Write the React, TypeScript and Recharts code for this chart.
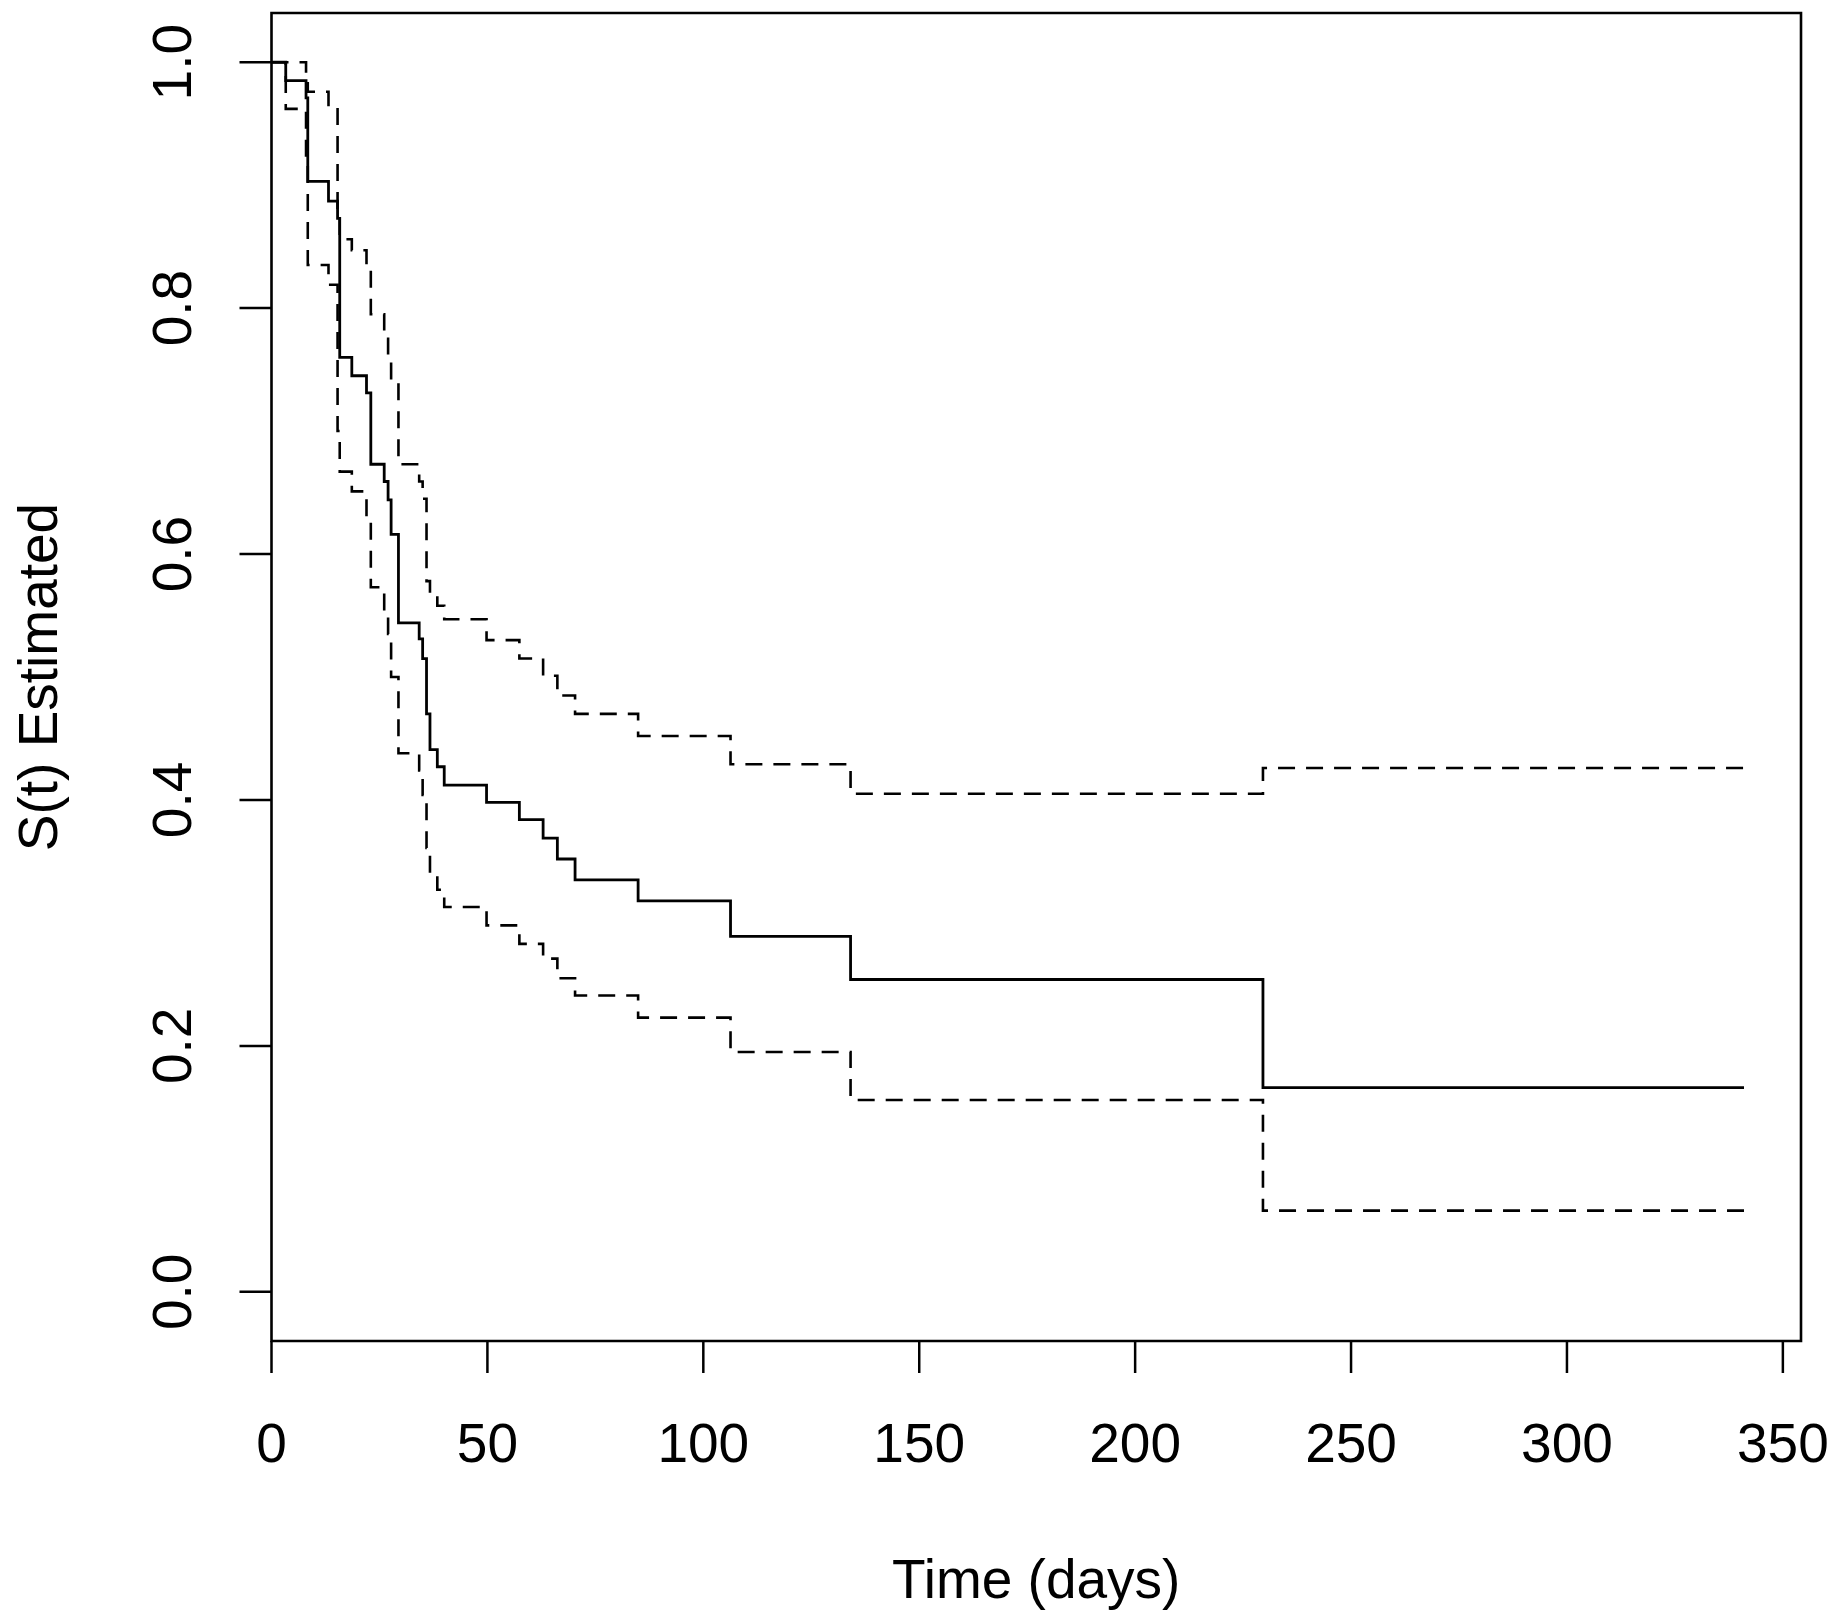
import React from 'react';
import { LineChart, Line, XAxis, YAxis, ReferenceArea } from 'recharts';

// Kaplan-Meier estimate with pointwise confidence band
const times = [0, 3.3, 8, 8.4, 13.2, 15.3, 15.8, 18.6, 22, 23, 26.1, 27, 27.7, 29.4, 34.2, 35, 35.9, 36.7, 38.4, 40, 49.8, 57.4, 62.9, 66.2, 70.3, 84.9, 106.3, 134.1, 229.6, 341];
const survival = [1, 0.985, 0.971, 0.903, 0.887, 0.873, 0.76, 0.745, 0.731, 0.673, 0.659, 0.644, 0.616, 0.544, 0.531, 0.515, 0.47, 0.441, 0.427, 0.412, 0.398, 0.384, 0.369, 0.352, 0.335, 0.318, 0.289, 0.254, 0.166, 0.166];
const upper = [1, 1, 0.99, 0.976, 0.964, 0.88, 0.856, 0.847, 0.835, 0.795, 0.775, 0.757, 0.74, 0.673, 0.659, 0.645, 0.578, 0.568, 0.558, 0.547, 0.53, 0.515, 0.501, 0.485, 0.47, 0.452, 0.429, 0.405, 0.426, 0.426];
const lower = [1, 0.962, 0.92, 0.835, 0.819, 0.7, 0.667, 0.651, 0.63, 0.573, 0.553, 0.535, 0.5, 0.438, 0.424, 0.404, 0.361, 0.34, 0.327, 0.313, 0.298, 0.283, 0.271, 0.255, 0.241, 0.223, 0.195, 0.156, 0.066, 0.066];

const xTicks = [0, 50, 100, 150, 200, 250, 300, 350];
const yTicks = [0, 0.2, 0.4, 0.6, 0.8, 1.0];

const X_MAX = 354.2;
const Y_MIN = -0.04;
const Y_MAX = 1.04;

const data = times.map((t, i) => ({ t, surv: survival[i], up: upper[i], lo: lower[i] }));

const FONT = '"Liberation Sans", Arial, sans-serif';
const FONT_SIZE = 55;

const XTick = (props: any) => {
  const { x, y, payload } = props;
  return (
    <text x={x} y={y + 89} textAnchor="middle" fontFamily={FONT} fontSize={FONT_SIZE} fill="#000">
      {payload.value}
    </text>
  );
};

const YTick = (props: any) => {
  const { x, y, payload } = props;
  const bx = x - 48.5;
  return (
    <text
      x={bx}
      y={y}
      transform={`rotate(-90, ${bx}, ${y})`}
      textAnchor="middle"
      fontFamily={FONT}
      fontSize={FONT_SIZE}
      fill="#000"
    >
      {Number(payload.value).toFixed(1)}
    </text>
  );
};

const XTitle = (props: any) => {
  const { viewBox } = props;
  return (
    <text
      x={viewBox.x + viewBox.width / 2}
      y={viewBox.y + 257}
      textAnchor="middle"
      fontFamily={FONT}
      fontSize={FONT_SIZE}
      fill="#000"
    >
      Time (days)
    </text>
  );
};

const YTitle = (props: any) => {
  const { viewBox } = props;
  const cy = viewBox.y + viewBox.height / 2;
  return (
    <text
      x={57}
      y={cy}
      transform={`rotate(-90, 57, ${cy})`}
      textAnchor="middle"
      fontFamily={FONT}
      fontSize={FONT_SIZE}
      fill="#000"
    >
      S(t) Estimated
    </text>
  );
};

export default function App() {
  return (
    <div style={{ position: 'absolute', left: 0, top: 0, width: 1839, height: 1623, background: '#fff' }}>
      <LineChart width={1839} height={1623} data={data} margin={{ top: 13, right: 38, bottom: 0, left: 0 }}>
        <XAxis
          dataKey="t"
          type="number"
          domain={[0, X_MAX]}
          allowDataOverflow
          ticks={xTicks}
          interval={0}
          height={282}
          axisLine={false}
          tickSize={32}
          tickMargin={0}
          tickLine={{ stroke: '#000', strokeWidth: 2.5 }}
          tick={<XTick />}
          label={<XTitle />}
        />
        <YAxis
          type="number"
          domain={[Y_MIN, Y_MAX]}
          allowDataOverflow
          ticks={yTicks}
          interval={0}
          width={271.5}
          axisLine={false}
          tickSize={32}
          tickMargin={0}
          tickLine={{ stroke: '#000', strokeWidth: 2.5 }}
          tick={<YTick />}
          label={<YTitle />}
        />
        <ReferenceArea x1={0} x2={X_MAX} y1={Y_MIN} y2={Y_MAX} fill="none" stroke="#000" strokeWidth={2.6} />
        <Line type="stepAfter" dataKey="up" stroke="#000" strokeWidth={2.6} strokeDasharray="17 11" dot={false} isAnimationActive={false} />
        <Line type="stepAfter" dataKey="lo" stroke="#000" strokeWidth={2.6} strokeDasharray="17 11" dot={false} isAnimationActive={false} />
        <Line type="stepAfter" dataKey="surv" stroke="#000" strokeWidth={2.8} dot={false} isAnimationActive={false} />
      </LineChart>
    </div>
  );
}
